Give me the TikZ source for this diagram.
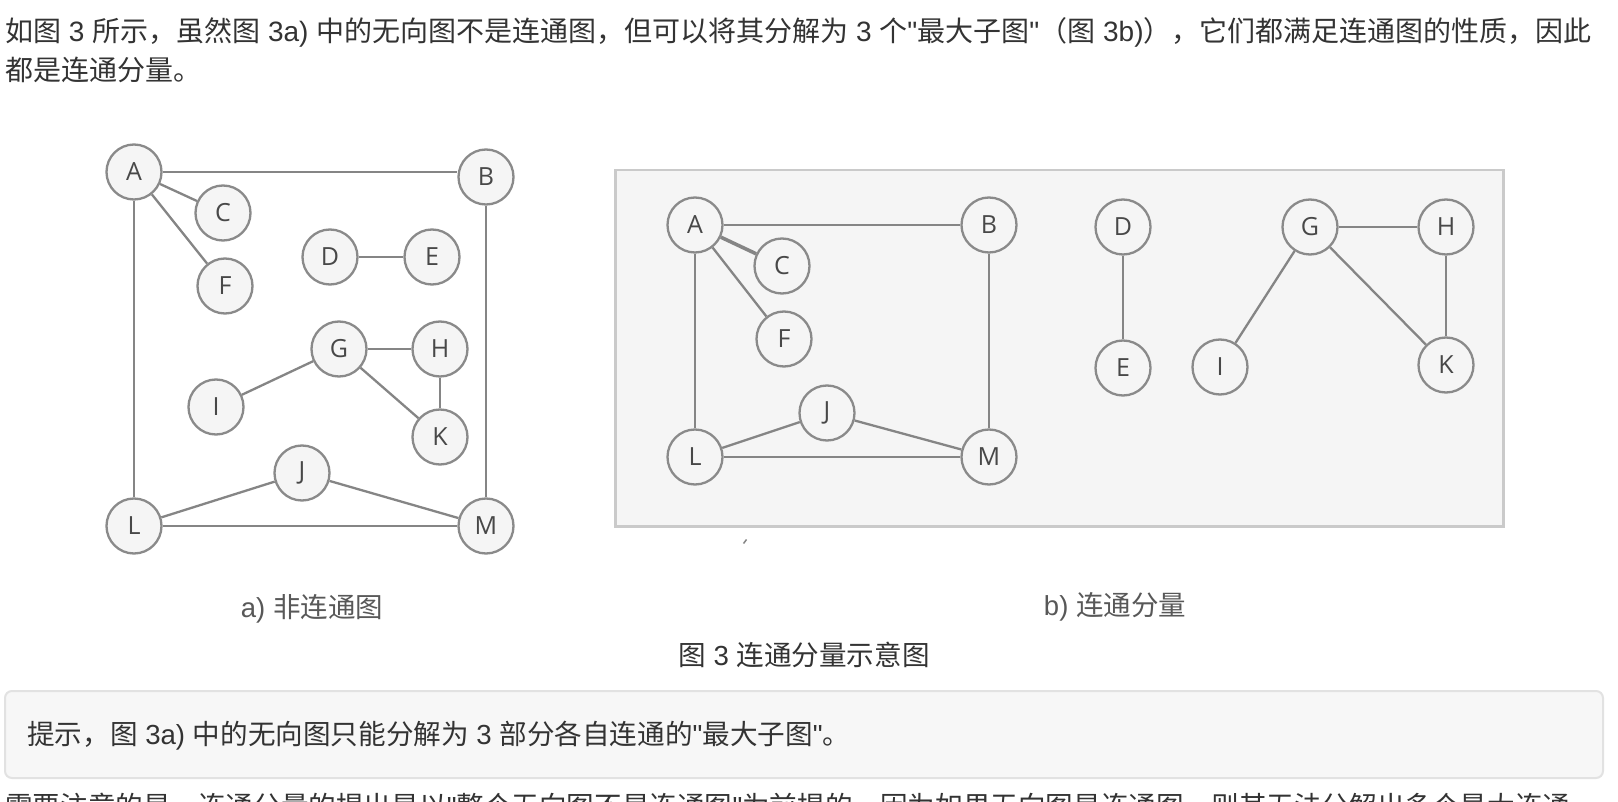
\documentclass[tikz,border=0pt]{standalone}
\usepackage{fontspec}
\setmainfont{Noto Sans CJK SC}[Ligatures=TeXOff]
\newfontfamily\lat{Liberation Sans}[Ligatures=TeXOff]
\newcommand\latn[1]{{\lat #1}}
\newfontfamily\lblfont{Open Sans}
\definecolor{edgec}{HTML}{858585}
\definecolor{circc}{HTML}{8A8A8A}
\definecolor{lblc}{HTML}{484848}
\definecolor{nodefill}{HTML}{F5F5F5}
\definecolor{panelfill}{HTML}{F5F5F5}
\definecolor{panelc}{HTML}{CACACA}
\definecolor{txtc}{HTML}{333333}
\definecolor{capc}{HTML}{585858}
\definecolor{hintfill}{HTML}{F7F7F7}
\definecolor{hintc}{HTML}{E2E2E2}
\tikzset{
  vtx/.style={circle, draw=circc, fill=nodefill, line width=2.3pt, minimum size=55pt, inner sep=0pt,
    text=lblc, font=\lblfont\fontsize{25}{25}\selectfont},
  edg/.style={draw=edgec, line width=2.3pt},
  bodytxt/.style={anchor=west, inner sep=0pt, text=txtc, font=\fontsize{27.6}{32}\selectfont},
  captxt/.style={inner sep=0pt, text=capc, font=\fontsize{27.5}{32}\selectfont},
}
\begin{document}
\begin{tikzpicture}[x=1pt,y=-1pt]
\useasboundingbox (0,0) rectangle (1618,802);
\clip (0,0) rectangle (1618,802);
\fill[white] (0,0) rectangle (1618,802);

% top paragraph
\node[bodytxt, font=\fontsize{28}{32}\selectfont] (p1) at (5,32) {如图\latn{ 3 }所示，虽然图\latn{ 3a) }中的无向图不是连通图，但可以将其分解为\latn{ 3 }个\latn{"}最大子图\latn{"}（图\latn{ 3b)}），它们都满足连通图的性质，因此};
\node[bodytxt, font=\fontsize{28}{32}\selectfont] (p2) at (5,70) {都是连通分量。};

% left graph
\node[vtx] (A) at (134,172) {A};
\node[vtx] (B) at (486,177) {B};
\node[vtx] (C) at (223,213) {C};
\node[vtx] (F) at (225,286) {F};
\node[vtx] (D) at (330,257) {D};
\node[vtx] (E) at (432,257) {E};
\node[vtx] (G) at (339,349) {G};
\node[vtx] (H) at (440,349) {H};
\node[vtx] (I) at (216,407) {I};
\node[vtx] (K) at (440,437) {K};
\node[vtx] (J) at (302,473) {J};
\node[vtx] (L) at (134,526) {L};
\node[vtx] (M) at (486,526) {M};
\path[edg] (A) -- (A -| B.west);
\path[edg] (A) -- (C);
\path[edg] (A) -- (F);
\path[edg] (A) -- (L);
\path[edg] (B) -- (M);
\path[edg] (D) -- (E);
\path[edg] (G) -- (H);
\path[edg] (G) -- (I);
\path[edg] (G) -- (K);
\path[edg] (H) -- (K);
\path[edg] (L) -- (J);
\path[edg] (J) -- (M);
\path[edg] (L) -- (M);

% right panel
\node[draw=panelc, fill=panelfill, line width=2.5pt, minimum width=888pt, minimum height=356pt, anchor=north west, inner sep=0pt] (panel) at (614,169) {};
\node[vtx] (rA) at (695,225) {A};
\node[vtx] (rB) at (989,225) {B};
\node[vtx] (rC) at (782,266) {C};
\node[vtx] (rF) at (784,339) {F};
\node[vtx] (rJ) at (827,413) {J};
\node[vtx] (rL) at (695,457) {L};
\node[vtx] (rM) at (989,457) {M};
\node[vtx] (rD) at (1123,227) {D};
\node[vtx] (rE) at (1123,368) {E};
\node[vtx] (rG) at (1310,227) {G};
\node[vtx] (rH) at (1446,227) {H};
\node[vtx] (rI) at (1220,367) {I};
\node[vtx] (rK) at (1446,365) {K};
\path[edg] (rA) -- (rB);
\path[edg, line width=3.6pt] (rA) -- (rC);
\path[edg] (rA) -- (rF);
\path[edg] (rA) -- (rL);
\path[edg] (rB) -- (rM);
\path[edg] (rL) -- (rJ);
\path[edg] (rJ) -- (rM);
\path[edg] (rL) -- (rM);
\path[edg] (rD) -- (rE);
\path[edg] (rG) -- (rH);
\path[edg] (rG) -- (rI);
\path[edg] (rG) -- (rK);
\path[edg] (rH) -- (rK);

% small stray mark
\coordinate (m1) at (743.5,543.5);
\coordinate (m2) at (746.5,539.5);
\draw[edgec, line width=1.5pt] (m1) -- (m2);

% captions
\node[captxt] (capa) at (312,609) {\latn{a) }非连通图};
\node[captxt] (capb) at (1115,607) {\latn{b) }连通分量};
\node[inner sep=0pt, text=txtc, font=\fontsize{27.6}{32}\selectfont] (cap) at (804,655) {图\latn{ 3 }连通分量示意图};

% hint box
\node[draw=hintc, fill=hintfill, line width=2pt, rounded corners=7pt, minimum width=1598pt, minimum height=87pt, anchor=north west, inner sep=0pt] (hint) at (4,690) {};
\node[bodytxt] (hinttxt) at (27,736) {提示，图\latn{ 3a) }中的无向图只能分解为\latn{ 3 }部分各自连通的\latn{"}最大子图\latn{"}。};

% cut-off last line
\node[bodytxt] (p3) at (5,806) {需要注意的是，连通分量的提出是以\latn{"}整个无向图不是连通图\latn{"}为前提的，因为如果无向图是连通图，则其无法分解出多个最大连通};
\end{tikzpicture}
\end{document}
